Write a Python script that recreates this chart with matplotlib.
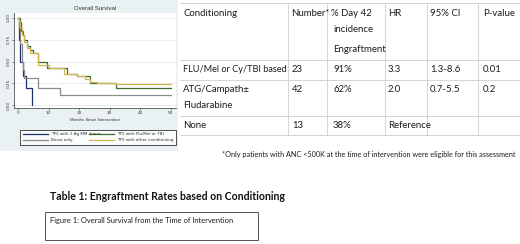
import matplotlib
matplotlib.use("Agg")
import matplotlib.pyplot as plt
from matplotlib.patches import Rectangle

# ---------------- data ----------------
# Kaplan-Meier step curves (months, survival)
mm_t = [0, 0.4, 0.7, 1.8, 2.5, 4.6]
mm_s = [1.0, 0.75, 0.5, 0.33, 0.19, 0.0]

boost_t = [0, 0.3, 0.7, 1.2, 1.8, 2.1, 6.5, 13.8, 50]
boost_s = [1.0, 0.9, 0.7, 0.5, 0.4, 0.31, 0.19, 0.12, 0.12]

flu_t = [0, 0.5, 1.0, 1.5, 2.0, 3.0, 4.0, 5.0, 6.5, 9.5, 16.0, 19.5, 23.6, 32.0, 50]
flu_s = [1.0, 0.95, 0.85, 0.8, 0.75, 0.68, 0.63, 0.6, 0.5, 0.42, 0.36, 0.33, 0.25, 0.2, 0.2]

oth_t = [0, 0.3, 0.8, 1.3, 2.0, 3.0, 4.0, 6.5, 10.0, 15.0, 19.5, 22.0, 23.6, 26.0, 32.0, 50]
oth_s = [1.0, 0.97, 0.88, 0.8, 0.72, 0.65, 0.6, 0.46, 0.43, 0.36, 0.33, 0.3, 0.27, 0.25, 0.24, 0.24]

series_labels = ["TP2 with 1 Ag MM donor", "Boost only",
                 "TP2 with Flu/Mel or TBI", "TP2 with other conditioning"]

yticks = [0.0, 0.25, 0.5, 0.75, 1.0]
ytick_labels = ["0.00", "0.25", "0.50", "0.75", "1.00"]
xticks = [0, 10, 20, 30, 40, 50]

# table
headers = ["Conditioning", "Number*", "% Day 42", "incidence", "Engraftment", "HR", "95% CI", "P-value"]
conditioning = ["FLU/Mel or Cy/TBI based", "ATG/Campath\u00b1\nFludarabine", "None"]
numbers = ["23", "42", "13"]
pct_day42 = ["91%", "62%", "38%"]
hr = ["3.3", "2.0", "Reference"]
ci95 = ["1.3-8.6", "0.7-5.5", ""]
pvalue = ["0.01", "0.2", ""]

footnote = "*Only patients with ANC <500K at the time of intervention were eligible for this assessment"
table_title = "Table 1: Engraftment Rates based on Conditioning"
fig_caption = "Figure 1: Overall Survival from the Time of Intervention"

# ---------------- figure ----------------
W, H = 520, 244
fig = plt.figure(figsize=(W / 100, H / 100), dpi=100)
bg = fig.add_axes([0, 0, 1, 1])
bg.set_xlim(0, W)
bg.set_ylim(H, 0)
bg.axis("off")

TF = ["Lato", "DejaVu Sans"]
SANS = ["Liberation Sans", "DejaVu Sans"]
ink = "#1c1c1c"

# Stata panel
PX1, PY1 = 178, 151
bg.add_patch(Rectangle((0, 0), PX1, PY1, facecolor="#eaf1f3", edgecolor="none", zorder=0))
AX_L, AX_R, AX_T, AX_B = 14, 176, 13, 108
bg.add_patch(Rectangle((AX_L, AX_T), AX_R - AX_L, AX_B - AX_T, facecolor="white",
                       edgecolor="none", zorder=1))
bg.text(95, 8, "Overall Survival", ha="center", va="center", fontsize=4.3,
        color="#333333", family=SANS)
bg.text(95, 120, "Months Since Intervention", ha="center", va="center", fontsize=3.2,
        color="#333333", family=SANS)

def fx(px):
    return px / W

def fy(py):
    return 1 - py / H

ax = fig.add_axes([fx(AX_L), fy(AX_B), fx(AX_R) - fx(AX_L), fy(AX_T) - fy(AX_B)])
ax.patch.set_alpha(0)
x0, pxm = 18, 3.05
y1, y0 = 18, 105
ppu = y0 - y1
ax.set_xlim(-(x0 - AX_L) / pxm, (AX_R - x0) / pxm)
ax.set_ylim(-(AX_B - y0) / ppu, 1 + (y1 - AX_T) / ppu)
for yv in yticks:
    ax.axhline(yv, color="#e3e8ea", lw=0.5, zorder=0)
colors = ["#1f2f6b", "#8a8a8a", "#3f6a2a", "#d2b550"]
h1, = ax.step(mm_t, mm_s, where="post", color=colors[0], lw=0.9)
h2, = ax.step(boost_t, boost_s, where="post", color=colors[1], lw=0.9)
h3, = ax.step(flu_t, flu_s, where="post", color=colors[2], lw=0.9)
h4, = ax.step(oth_t, oth_s, where="post", color=colors[3], lw=0.9)
ax.set_yticks(yticks)
ax.set_yticklabels(ytick_labels, rotation=90, va="center", fontsize=3.0, color="#333333")
ax.set_xticks(xticks)
ax.set_xticklabels([str(v) for v in xticks], fontsize=3.0, color="#333333")
ax.tick_params(length=1.5, width=0.4, pad=1, colors="#333333")
for s in ["top", "right"]:
    ax.spines[s].set_visible(False)
for s in ["left", "bottom"]:
    ax.spines[s].set_linewidth(0.5)
    ax.spines[s].set_color("#333333")

leg = fig.legend([h1, h2, h3, h4], series_labels,
                 ncol=2, loc="lower left",
                 bbox_to_anchor=(fx(18), fy(147), fx(178) - fx(18), fy(127) - fy(147)),
                 mode="expand", fontsize=3.0, frameon=True, fancybox=False,
                 edgecolor="black", handlelength=6, borderpad=0.6, labelspacing=0.5,
                 columnspacing=1.0)
leg.get_frame().set_linewidth(0.6)
for t in leg.get_texts():
    t.set_color("#333333")

# ---------------- table ----------------
grid = "#cfcfcf"
tx_left, tx_right = 180, 520
col_x = [183, 291, 331, 388, 430, 483]
vlines = [288, 327, 385, 427, 478]
hlines = [3, 60, 80, 116, 135]
for yv in hlines:
    bg.plot([tx_left, tx_right], [yv, yv], color=grid, lw=0.6)
for xv in vlines:
    bg.plot([xv, xv], [hlines[0], hlines[-1]], color=grid, lw=0.6)

tfs = 6.9
def T(x, y, s, **kw):
    bg.text(x, y, s, fontsize=kw.pop("fs", tfs), va="center", family=TF, color=ink, **kw)

T(col_x[0], 13, headers[0])
T(col_x[1], 13, headers[1])
T(col_x[2], 13, headers[2])
T(col_x[2] + 2, 30, headers[3])
T(col_x[2] + 2, 50, headers[4])
T(col_x[3], 13, headers[5])
T(col_x[4], 13, headers[6])
T(col_x[5], 13, headers[7])

row_y = [69, 90, 125]
cond_fs = [6.6, 6.9, 6.9]
for i in range(3):
    for j, ln in enumerate(conditioning[i].split("\n")):
        T(col_x[0], row_y[i] + 16 * j, ln, fs=cond_fs[i])
    T(col_x[1] + 1 if i == 0 else 292, row_y[i], numbers[i])
    T(col_x[2] + 2, row_y[i], pct_day42[i])
    T(col_x[3], row_y[i], hr[i])
    T(col_x[4], row_y[i], ci95[i])
    T(col_x[5], row_y[i], pvalue[i])

T(222, 154, footnote, fs=5.2)
bg.text(50, 197, table_title, fontsize=7.6, va="center", family=TF, fontweight="bold", color="#111111")
bg.add_patch(Rectangle((45, 212), 213, 28, facecolor="white", edgecolor="#555555", lw=0.7))
T(50, 220, fig_caption, fs=5.4)

fig.savefig("out.png", dpi=100)
